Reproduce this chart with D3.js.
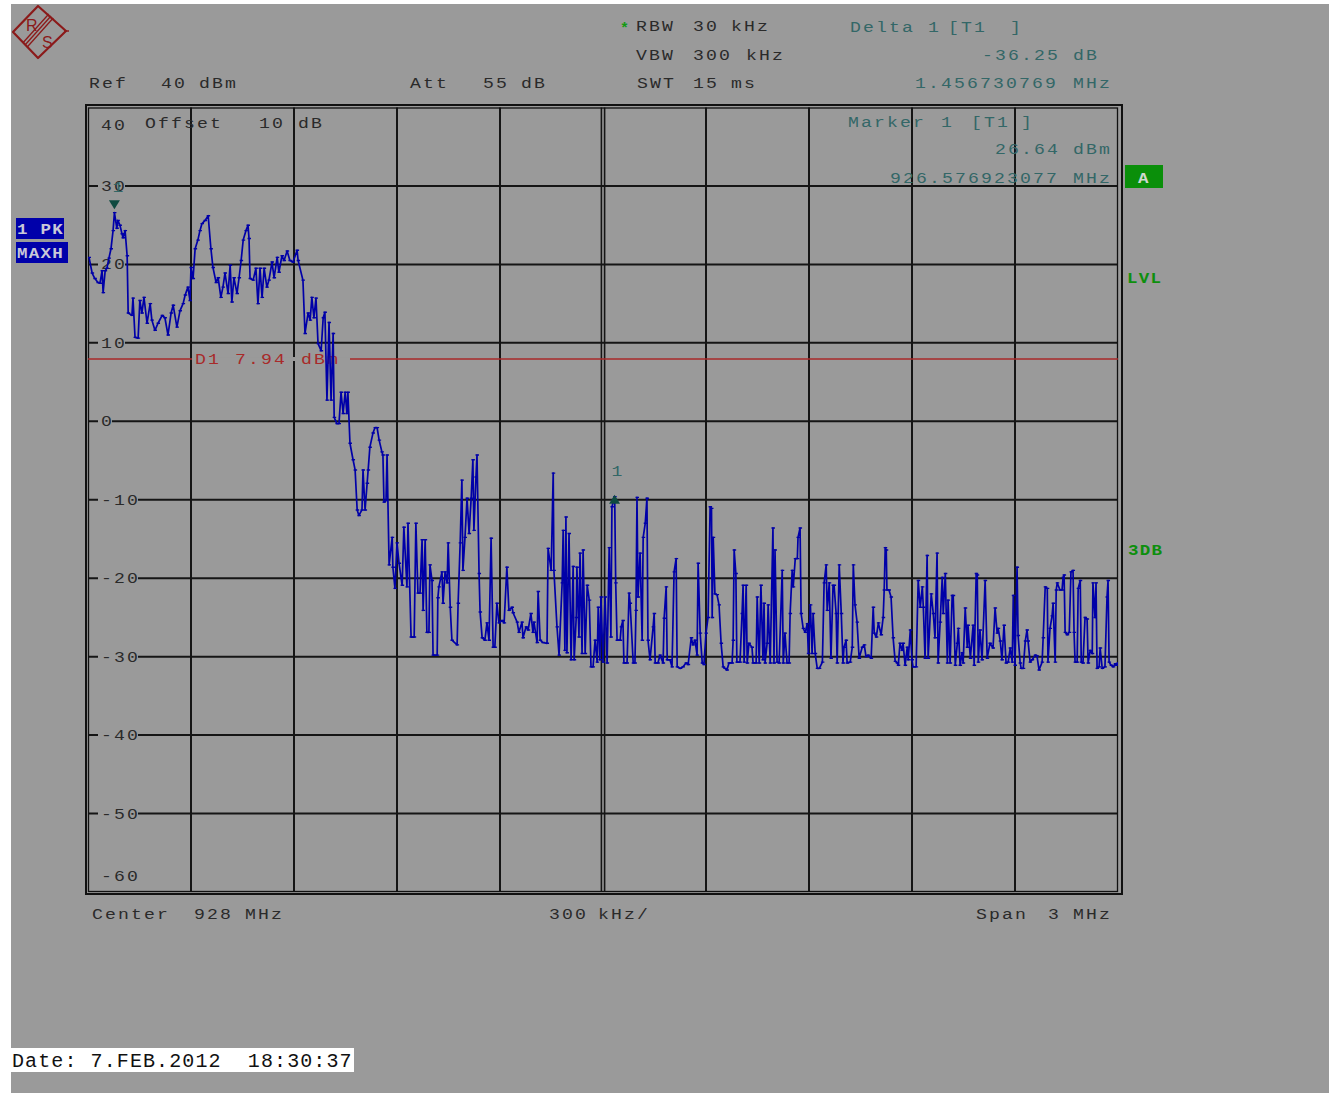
<!DOCTYPE html>
<html><head><meta charset="utf-8">
<script src="https://cdn.jsdelivr.net/npm/d3@7"></script>
<style>
body{margin:0;background:#fff}
svg{display:block}
text{font-family:"Liberation Mono","Courier New",monospace}
</style>
</head><body>
<svg id="c" width="1329" height="1093"></svg>
<script>
// ---------------- data ----------------
const startMHz = 926.5, stopMHz = 929.5;
const freqGridMHz = [926.5, 926.8, 927.1, 927.4, 927.7, 928.0, 928.3, 928.6, 928.9, 929.2, 929.5];
const levelTicks = [40, 30, 20, 10, 0, -10, -20, -30, -40, -50, -60];
const tickLabels = ["40", "30", "20", "10", "0", "-10", "-20", "-30", "-40", "-50", "-60"];
const d1Level = 7.94;
const marker1MHz = 926.576923077, marker1Dbm = 26.64;
const deltaMHz = 1.456730769, deltaDb = -36.25;

// trace: [offset from start frequency in kHz, level in dBm]
const trace = [
[3,20.9],[12,18.9],[20,18.2],[29,17.7],[35,17.6],[41,19.2],[44,16.4],[50,19.2],[55,19.5],[61,20.8],
[67,22.0],[73,24.3],[77,26.6],[84,24.6],[87,25.6],[93,25.0],[99,23.9],[102,23.4],[108,24.3],[114,21.1],
[117,13.8],[128,13.5],[131,15.7],[137,10.7],[146,10.6],[151,15.4],[157,13.8],[163,15.8],[172,12.5],[181,15.0],
[186,12.9],[195,11.6],[204,12.5],[216,13.5],[224,13.2],[233,11.0],[242,13.8],[248,14.8],[259,12.0],[268,14.1],
[277,15.0],[283,16.1],[291,17.1],[297,15.4],[300,19.6],[306,18.2],[312,22.0],[320,23.1],[326,24.3],[332,25.2],
[341,25.6],[350,26.2],[358,22.0],[364,19.6],[373,17.7],[379,18.3],[387,15.8],[393,17.1],[399,18.9],[408,16.3],
[414,19.9],[419,15.2],[425,18.3],[434,16.3],[440,18.3],[446,20.5],[452,23.1],[460,24.3],[466,25.0],[469,23.3],
[472,18.2],[481,18.0],[489,19.5],[495,15.0],[501,19.5],[507,15.8],[513,19.5],[521,17.1],[527,18.0],[536,20.3],
[542,18.3],[551,20.9],[556,19.0],[565,21.1],[571,20.5],[580,21.7],[588,20.5],[597,20.3],[609,21.8],[612,20.5],
[626,18.0],[632,11.2],[641,13.8],[647,12.9],[652,15.8],[658,13.2],[664,15.7],[670,9.9],[679,9.0],[685,13.2],
[690,13.9],[696,2.7],[702,12.6],[708,2.7],[714,11.2],[717,0.5],[725,-0.3],[731,-0.3],[737,3.7],[743,1.0],
[749,3.7],[754,1.0],[757,3.7],[763,-2.8],[772,-4.9],[778,-6.2],[784,-11.3],[789,-12.0],[798,-11.3],[801,-6.2],
[807,-11.3],[813,-7.9],[816,-6.2],[821,-3.3],[830,-1.5],[836,-0.8],[842,-0.8],[848,-2.4],[856,-3.9],[859,-4.3],
[862,-10.3],[868,-10.1],[871,-4.3],[877,-18.3],[886,-14.8],[888,-18.6],[894,-21.3],[900,-15.5],[906,-18.1],[915,-20.9],
[920,-13.5],[929,-21.1],[932,-13.0],[941,-27.5],[950,-27.5],[955,-13.0],[961,-21.9],[967,-21.9],[973,-15.1],[976,-24.1],
[982,-15.1],[987,-26.9],[993,-26.9],[996,-18.3],[1002,-20.3],[1005,-29.8],[1017,-29.8],[1019,-22.5],[1022,-21.1],[1031,-19.2],
[1034,-23.2],[1040,-19.2],[1046,-20.6],[1049,-15.5],[1055,-23.7],[1060,-27.9],[1075,-28.5],[1078,-23.2],[1084,-15.5],[1089,-7.5],
[1092,-19.0],[1098,-14.8],[1104,-9.8],[1110,-14.3],[1116,-9.8],[1121,-4.9],[1124,-13.9],[1130,-7.1],[1133,-4.3],[1139,-19.4],
[1142,-24.3],[1148,-27.6],[1156,-27.9],[1162,-25.7],[1168,-27.9],[1174,-14.9],[1180,-28.8],[1185,-28.8],[1191,-23.2],[1197,-25.7],
[1206,-25.4],[1212,-25.7],[1220,-18.6],[1226,-24.1],[1235,-23.7],[1238,-24.4],[1250,-25.6],[1255,-26.9],[1264,-25.6],[1267,-27.6],
[1276,-26.2],[1282,-26.6],[1290,-24.5],[1296,-26.9],[1299,-25.6],[1308,-28.2],[1311,-21.7],[1317,-27.9],[1325,-28.2],[1337,-28.3],
[1340,-16.2],[1349,-19.0],[1355,-6.6],[1357,-19.0],[1366,-26.2],[1372,-29.8],[1381,-20.6],[1384,-13.9],[1389,-29.2],[1392,-12.2],
[1395,-29.5],[1401,-14.3],[1407,-30.4],[1413,-18.5],[1416,-30.4],[1422,-25.0],[1424,-18.6],[1430,-27.5],[1433,-16.8],[1439,-29.6],
[1442,-16.4],[1448,-29.6],[1454,-20.9],[1460,-22.8],[1465,-31.3],[1471,-31.3],[1477,-27.9],[1483,-30.7],[1486,-23.7],[1491,-30.4],
[1494,-22.4],[1500,-30.7],[1506,-22.4],[1512,-30.8],[1518,-16.1],[1523,-27.5],[1526,-10.9],[1534,-9.6],[1537,-20.6],[1541,-27.9],
[1550,-27.9],[1553,-26.2],[1558,-25.4],[1561,-30.8],[1570,-30.8],[1576,-21.9],[1579,-23.2],[1588,-30.8],[1593,-30.8],[1596,-24.1],
[1599,-9.7],[1602,-22.4],[1608,-16.8],[1614,-27.9],[1617,-14.8],[1623,-13.0],[1628,-9.8],[1631,-27.9],[1637,-30.4],[1646,-26.2],
[1649,-24.5],[1652,-30.8],[1660,-30.8],[1666,-29.8],[1675,-30.8],[1678,-25.1],[1684,-21.1],[1687,-30.4],[1695,-30.4],[1701,-31.3],
[1707,-19.2],[1713,-17.5],[1716,-31.3],[1725,-31.5],[1733,-31.3],[1742,-30.8],[1748,-31.0],[1757,-27.6],[1762,-28.5],[1768,-27.9],
[1774,-29.8],[1777,-18.1],[1783,-27.0],[1789,-30.8],[1794,-31.0],[1800,-27.0],[1806,-25.0],[1812,-10.9],[1816,-11.1],[1818,-25.0],
[1821,-14.8],[1826,-22.0],[1832,-22.1],[1838,-23.4],[1844,-28.3],[1850,-31.3],[1855,-31.5],[1861,-31.7],[1867,-30.8],[1876,-30.8],
[1879,-27.9],[1882,-16.4],[1887,-19.4],[1890,-30.7],[1899,-30.7],[1905,-24.5],[1908,-20.9],[1911,-30.7],[1917,-20.9],[1920,-30.8],
[1925,-28.3],[1934,-28.8],[1937,-30.8],[1946,-30.8],[1949,-22.4],[1955,-30.8],[1960,-20.9],[1966,-30.4],[1969,-23.2],[1972,-30.8],
[1978,-28.3],[1981,-23.4],[1987,-30.8],[1995,-13.6],[1998,-30.8],[2001,-16.4],[2007,-30.7],[2013,-30.8],[2022,-19.0],[2025,-30.8],
[2030,-27.0],[2036,-30.8],[2042,-30.8],[2045,-24.5],[2051,-19.0],[2054,-21.1],[2060,-17.5],[2066,-17.5],[2068,-14.8],[2074,-13.6],
[2077,-24.5],[2083,-26.4],[2089,-26.9],[2095,-25.8],[2098,-29.6],[2104,-23.4],[2109,-29.6],[2112,-24.5],[2118,-29.6],[2124,-31.5],
[2130,-31.5],[2139,-30.7],[2144,-20.6],[2150,-18.3],[2153,-24.1],[2159,-20.6],[2164,-30.2],[2170,-20.9],[2173,-20.9],[2179,-24.5],
[2182,-30.8],[2188,-18.3],[2194,-24.5],[2199,-30.8],[2202,-28.8],[2208,-27.9],[2211,-30.8],[2220,-30.7],[2226,-28.8],[2229,-18.3],
[2234,-23.4],[2240,-25.6],[2246,-30.2],[2255,-28.8],[2261,-28.5],[2266,-30.0],[2272,-29.8],[2281,-30.2],[2287,-23.7],[2290,-27.0],
[2296,-27.5],[2302,-25.7],[2310,-27.2],[2316,-25.0],[2319,-21.5],[2322,-16.1],[2325,-16.4],[2327,-21.5],[2333,-21.5],[2339,-22.4],
[2345,-27.6],[2351,-30.6],[2357,-30.8],[2360,-31.1],[2365,-28.3],[2371,-29.2],[2374,-28.3],[2380,-31.1],[2386,-28.8],[2389,-30.4],
[2395,-26.6],[2400,-30.4],[2403,-31.3],[2412,-31.3],[2418,-20.3],[2424,-23.7],[2430,-21.1],[2433,-23.7],[2438,-30.2],[2444,-17.1],
[2447,-30.2],[2456,-22.0],[2462,-24.5],[2467,-27.6],[2473,-16.8],[2476,-30.8],[2482,-25.6],[2488,-19.9],[2491,-24.5],[2497,-19.4],
[2503,-30.8],[2505,-22.8],[2511,-30.8],[2517,-22.2],[2520,-22.2],[2526,-31.1],[2532,-28.3],[2535,-26.4],[2540,-31.1],[2546,-29.5],
[2549,-30.8],[2555,-23.8],[2561,-28.8],[2563,-26.0],[2570,-30.2],[2578,-26.0],[2581,-31.1],[2587,-19.4],[2590,-19.6],[2593,-30.7],
[2598,-26.6],[2604,-30.4],[2613,-20.3],[2619,-30.2],[2627,-28.3],[2636,-28.9],[2642,-23.8],[2648,-27.0],[2651,-26.4],[2657,-28.0],
[2662,-30.4],[2668,-26.0],[2674,-30.8],[2680,-30.7],[2686,-28.9],[2692,-30.7],[2695,-22.2],[2700,-31.1],[2706,-18.6],[2709,-27.3],
[2715,-30.8],[2718,-31.5],[2724,-31.5],[2730,-28.0],[2735,-26.6],[2738,-28.0],[2744,-30.7],[2750,-30.4],[2759,-29.8],[2764,-29.9],
[2770,-31.7],[2779,-30.7],[2782,-27.6],[2788,-21.1],[2794,-21.3],[2796,-30.7],[2802,-26.4],[2808,-24.8],[2811,-23.2],[2817,-30.7],
[2820,-21.5],[2823,-20.6],[2831,-21.5],[2837,-21.5],[2840,-19.9],[2843,-19.6],[2846,-26.9],[2852,-27.2],[2858,-26.9],[2863,-19.2],
[2869,-19.0],[2872,-26.9],[2875,-30.7],[2881,-30.7],[2884,-21.3],[2890,-20.3],[2893,-30.7],[2898,-30.8],[2904,-25.0],[2910,-25.2],
[2913,-30.8],[2919,-29.2],[2925,-29.6],[2927,-20.6],[2933,-25.0],[2936,-20.6],[2939,-31.5],[2945,-31.3],[2948,-28.9],[2954,-31.5],
[2962,-31.3],[2968,-22.4],[2971,-20.3],[2974,-30.7],[2980,-31.1],[2986,-31.3],[2992,-30.9],[2994,-31.1],[3000,-30.8]
];

// text content
const headerBlack = [
  {t:"Ref", x:89, y:88}, {t:"40", x:161, y:88}, {t:"dBm", x:199, y:88},
  {t:"Att", x:410, y:88}, {t:"55", x:483, y:88}, {t:"dB", x:521, y:88},
  {t:"RBW", x:636, y:31}, {t:"30", x:693, y:31}, {t:"kHz", x:731, y:31},
  {t:"VBW", x:636, y:60}, {t:"300", x:693, y:60}, {t:"kHz", x:746, y:60},
  {t:"SWT", x:637, y:88}, {t:"15", x:693, y:88}, {t:"ms", x:731, y:88},
  {t:"Offset", x:145, y:128}, {t:"10", x:259, y:128}, {t:"dB", x:298, y:128},
  {t:"Center", x:92, y:919}, {t:"928", x:194, y:919}, {t:"MHz", x:245, y:919},
  {t:"300", x:549, y:919}, {t:"kHz/", x:598, y:919},
  {t:"Span", x:976, y:919}, {t:"3", x:1048, y:919}, {t:"MHz", x:1073, y:919}
];
const headerTeal = [
  {t:"Delta", x:850, y:32}, {t:"1", x:928, y:32}, {t:"[T1", x:948, y:32}, {t:"]", x:1010, y:32},
  {t:"-36.25", x:982, y:60}, {t:"dB", x:1073, y:60},
  {t:"1.456730769", x:915, y:88}, {t:"MHz", x:1073, y:88},
  {t:"Marker", x:848, y:127}, {t:"1", x:941, y:127}, {t:"[T1", x:971, y:127}, {t:"]", x:1021, y:127},
  {t:"26.64", x:995, y:154}, {t:"dBm", x:1073, y:154},
  {t:"926.576923077", x:890, y:183}, {t:"MHz", x:1073, y:183}
];
const d1Text = [{t:"D1", x:195}, {t:"7.94", x:235}, {t:"dBm", x:301}];
const dateText = "Date: 7.FEB.2012  18:30:37";

// ---------------- drawing ----------------
const svg = d3.select("#c");
const BG = "#9a9a9a", INK = "#2a2a2a", TEAL = "#336767", RED = "#a82a2a",
      TRACE = "#0000a8", GREEN = "#0d8f0d", MK = "#0e4a40";
const SX = 1.25;          // horizontal stretch of the instrument font
const FS = "14.5px", LS = "1.7px";

svg.append("rect").attr("x",0).attr("y",0).attr("width",1329).attr("height",1093).attr("fill","#fff");
svg.append("rect").attr("x",11).attr("y",4).attr("width",1318).attr("height",1089).attr("fill",BG);

const x = d3.scaleLinear().domain([startMHz, stopMHz]).range([88, 1118]);
const y = d3.scaleLinear().domain([-60, 40]).range([892, 107.5]);

// Logo
const logo = svg.append("g").attr("fill","none").attr("stroke","#8b1a1a");
logo.append("path").attr("d","M13,32 L38,6 L66,31 L38,58 Z").attr("stroke-width",2.2).attr("stroke-linejoin","round");
[-3,0,3].forEach(o => {
  const ux = 29/39, uy = 26/39;
  logo.append("line")
    .attr("x1", 51 + o*ux).attr("y1", 16 + o*uy)
    .attr("x2", 25 + o*ux).attr("y2", 45 + o*uy)
    .attr("stroke-width",1.3);
});
logo.append("line").attr("x1",64).attr("y1",31).attr("x2",69).attr("y2",31).attr("stroke-width",1.5);
svg.append("text").attr("x",26).attr("y",31).text("R")
  .style("font-family","Liberation Sans, Arial").style("font-size","16px").attr("fill","#8b1a1a");
svg.append("text").attr("x",42).attr("y",48).text("S")
  .style("font-family","Liberation Sans, Arial").style("font-size","16px").attr("fill","#8b1a1a");

// Grid
const grid = svg.append("g").attr("stroke","#151515").attr("stroke-width",2);
freqGridMHz.slice(1, -1).forEach(f => {
  if (f === 928.0) {
    [-1.6, 1.6].forEach(d => grid.append("line").attr("x1",x(f)+d).attr("x2",x(f)+d)
      .attr("y1",y(40)).attr("y2",y(-60)).attr("stroke-width",1.6));
  } else {
    grid.append("line").attr("x1",x(f)).attr("x2",x(f)).attr("y1",y(40)).attr("y2",y(-60));
  }
});
levelTicks.slice(1, -1).forEach(v => {
  grid.append("line").attr("x1",x(startMHz)).attr("x2",x(stopMHz)).attr("y1",y(v)).attr("y2",y(v));
});
// frame (double)
svg.append("rect").attr("x",86).attr("y",105).attr("width",1036).attr("height",789)
  .attr("fill","none").attr("stroke","#111").attr("stroke-width",2);
svg.append("rect").attr("x",x(startMHz)+0.5).attr("y",y(40)+0.5).attr("width",x(stopMHz)-x(startMHz)-1)
  .attr("height",y(-60)-y(40)-1).attr("fill","none").attr("stroke","#111").attr("stroke-width",1.3);

function txt(g, d, color) {
  return g.append("text").attr("transform", `translate(${d.x},${d.y}) scale(${SX},1)`).text(d.t)
    .attr("fill", color).style("font-size", FS).style("letter-spacing", LS);
}

// y labels with background
const yl = svg.append("g");
levelTicks.forEach((v, i) => {
  let by = y(v) + 5;
  if (v === 40) by = 130;
  if (v === -60) by = 881;
  if (v !== 40 && v !== -60) {
    yl.append("rect").attr("x", 98).attr("y", y(v) - 3)
      .attr("width", tickLabels[i].length * 13 + 1).attr("height", 6).attr("fill", BG);
  }
  txt(yl, {t: tickLabels[i], x: 101, y: by}, INK);
});

// D1 line
const d1y = y(d1Level);
svg.append("line").attr("x1",x(startMHz)).attr("x2",x(stopMHz)).attr("y1",d1y).attr("y2",d1y)
  .attr("stroke",RED).attr("stroke-width",1.3);
svg.append("rect").attr("x",192).attr("y",d1y-2).attr("width",158).attr("height",4).attr("fill",BG);
d1Text.forEach(d => txt(svg, {t:d.t, x:d.x, y:d1y+5}, RED));

// header texts
headerBlack.forEach(d => txt(svg, d, INK));
headerTeal.forEach(d => txt(svg, d, TEAL));
svg.append("text").attr("x",620).attr("y",33).text("*").attr("fill","#129a12")
  .style("font-size","15px").style("font-weight","bold");

// trace
svg.append("clipPath").attr("id","pc").append("rect")
  .attr("x",x(startMHz)).attr("y",y(40)).attr("width",x(stopMHz)-x(startMHz)).attr("height",y(-60)-y(40));
const tg = svg.append("g").attr("clip-path","url(#pc)");
const fx = d => x(startMHz + d[0] / 1000);
const line = d3.line().x(fx).y(d => y(d[1]));
tg.append("path").datum(trace).attr("d", line).attr("fill","none")
  .attr("stroke",TRACE).attr("stroke-width",1.7).attr("stroke-linejoin","round");
tg.append("path").attr("d", trace.map(d => `M${fx(d)-1.5},${y(d[1])}h3.5`).join(""))
  .attr("stroke",TRACE).attr("stroke-width",1.4);

// markers
const m1x = x(marker1MHz), m1y = y(marker1Dbm);
svg.append("path").attr("d", `M${m1x-5.5},${m1y-12}L${m1x+5.5},${m1y-12}L${m1x},${m1y-3}Z`).attr("fill",MK);
txt(svg, {t:"1", x:m1x-2, y:m1y-20}, TEAL);
const dx = x(marker1MHz + deltaMHz), dy = y(marker1Dbm + deltaDb);
svg.append("path").attr("d", `M${dx-5.5},${dy+7}L${dx+5.5},${dy+7}L${dx},${dy-2}Z`).attr("fill",MK);
txt(svg, {t:"1", x:dx-3, y:dy-21}, TEAL);

// badges and side labels
const bold = (tx, ty, label, col) => svg.append("text")
  .attr("transform", `translate(${tx},${ty}) scale(1.25,1)`).text(label).attr("fill", col)
  .style("font-family","Liberation Mono, Courier New").style("font-weight","bold")
  .style("font-size","14px").style("letter-spacing","1px");
const badge = (bx, by, w, h, fill, label, tx, ty, col) => {
  svg.append("rect").attr("x",bx).attr("y",by).attr("width",w).attr("height",h).attr("fill",fill);
  bold(tx, ty, label, col);
};
badge(16, 218, 48, 21, "#0000aa", "1 PK", 17, 234, "#c8c8d8");
badge(16, 242, 52, 21, "#0000aa", "MAXH", 17, 258, "#c8c8d8");
badge(1125, 165, 38, 23, "#0a8f0a", "A", 1138, 183, "#cfd8cf");
bold(1127, 283, "LVL", GREEN);
bold(1128, 555, "3DB", GREEN);

// date box
svg.append("rect").attr("x",11).attr("y",1048).attr("width",343).attr("height",24).attr("fill","#fff");
svg.append("text").attr("x",12).attr("y",1067).text(dateText).attr("fill","#111")
  .style("font-size","20px").style("letter-spacing","1.1px").style("white-space","pre").attr("xml:space","preserve");
</script>
</body></html>
